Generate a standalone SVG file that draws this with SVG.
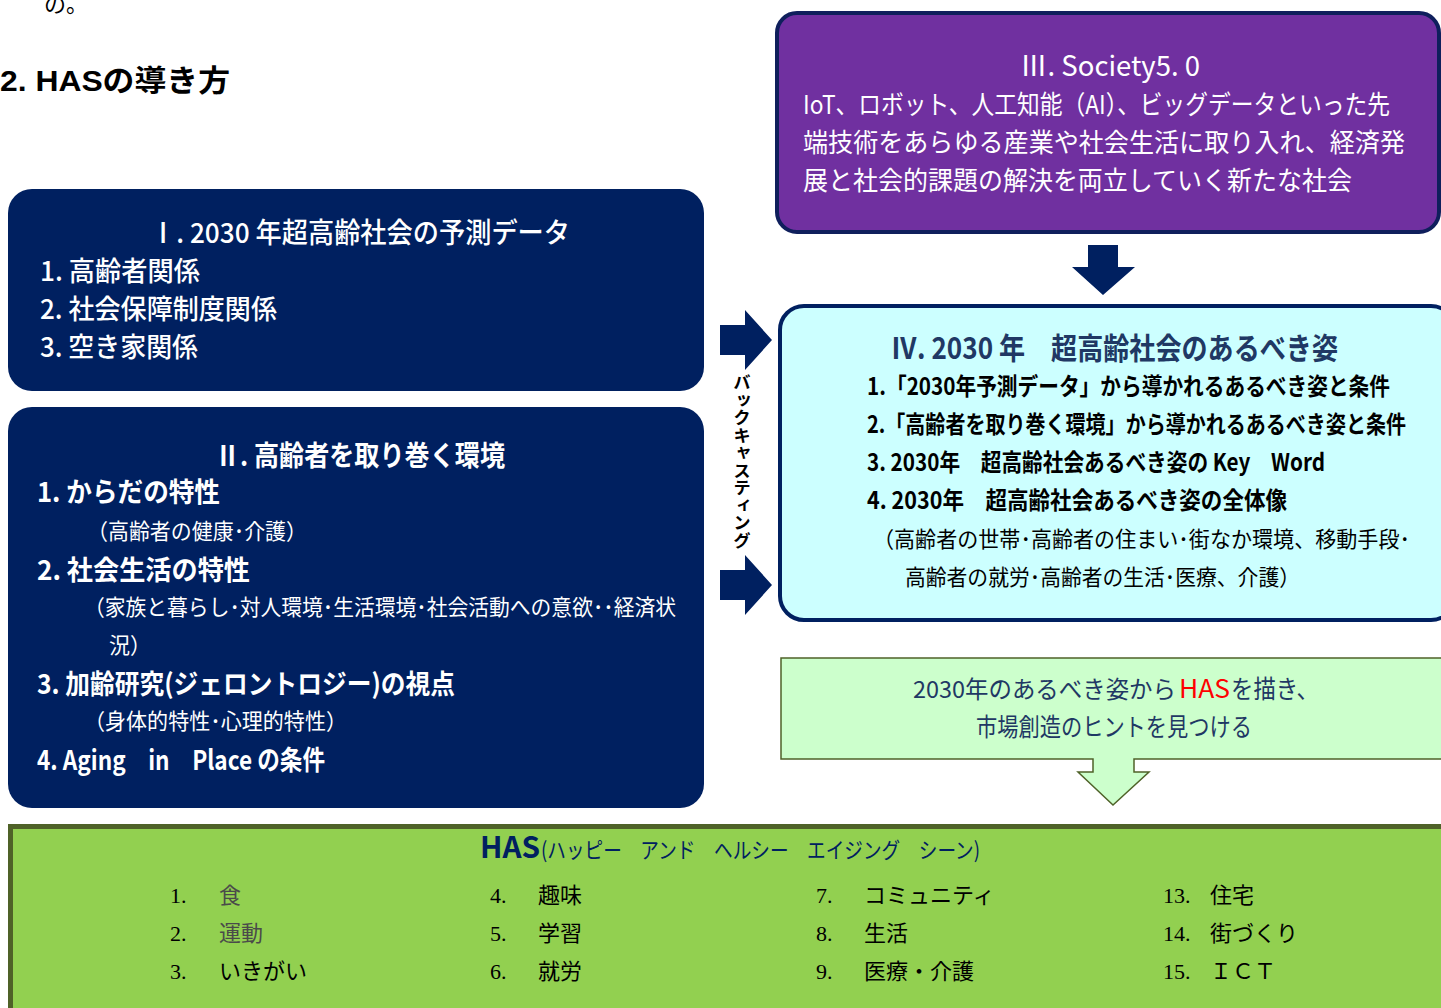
<svg xmlns="http://www.w3.org/2000/svg" width="1441" height="1008" viewBox="0 0 1441 1008">
<style>
text { font-family: "Noto Sans CJK JP", sans-serif; }
.w { fill: #ffffff; }
.b { font-weight: 700; }
.k { fill: #000000; }
.navy { fill: #002060; }
.hint { fill: #1F3864; font-size: 25px; }
.serif { font-family: "Liberation Serif", "Noto Sans CJK JP", serif; font-size: 22px; fill: #000; }
.gray { fill: #4a4a4a; }
.arrow { fill: #002060; }
</style>
<rect width="1441" height="1008" fill="#ffffff"/>

<g id="header">
  <text x="44" y="12" font-size="22" class="k">の。</text>
  <text x="0" y="91" font-size="30" class="k b" textLength="230" lengthAdjust="spacingAndGlyphs"><tspan font-family="Liberation Sans, sans-serif">2. HAS</tspan>の導き方</text>
</g>

<g id="node-society">
  <rect x="777" y="13" width="662" height="219" rx="20" fill="#7030A0" stroke="#0F1F5C" stroke-width="4"/>
  <text x="1020" y="76" font-size="28" class="w" textLength="180" lengthAdjust="spacingAndGlyphs">Ⅲ. Society5. 0</text>
  <text x="803" y="114" font-size="26" class="w" textLength="587" lengthAdjust="spacingAndGlyphs">IoT、ロボット、人工知能（AI）、ビッグデータといった先</text>
  <text x="803" y="152" font-size="26" class="w" textLength="602" lengthAdjust="spacingAndGlyphs">端技術をあらゆる産業や社会生活に取り入れ、経済発</text>
  <text x="803" y="190" font-size="26" class="w" textLength="549" lengthAdjust="spacingAndGlyphs">展と社会的課題の解決を両立していく新たな社会</text>
</g>

<g id="node-forecast">
  <rect x="8" y="189" width="696" height="202" rx="24" fill="#002060"/>
  <text x="150" y="243" font-size="28" class="w" font-weight="500" textLength="420" lengthAdjust="spacingAndGlyphs">Ⅰ. 2030 年超高齢社会の予測データ</text>
  <text x="40" y="281" font-size="27" class="w" font-weight="500" textLength="160" lengthAdjust="spacingAndGlyphs">1. 高齢者関係</text>
  <text x="40" y="319" font-size="27" class="w" font-weight="500" textLength="237" lengthAdjust="spacingAndGlyphs">2. 社会保障制度関係</text>
  <text x="40" y="357" font-size="27" class="w" font-weight="500" textLength="158" lengthAdjust="spacingAndGlyphs">3. 空き家関係</text>
</g>

<g id="node-environment">
  <rect x="8" y="407" width="696" height="401" rx="24" fill="#002060"/>
  <text x="215" y="466" font-size="28" class="w b" textLength="290" lengthAdjust="spacingAndGlyphs">Ⅱ. 高齢者を取り巻く環境</text>
  <text x="37" y="502" font-size="27" class="w b" textLength="183" lengthAdjust="spacingAndGlyphs">1. からだの特性</text>
  <text x="87" y="539" font-size="22" class="w" textLength="220" lengthAdjust="spacingAndGlyphs">（高齢者の健康･介護）</text>
  <text x="37" y="580" font-size="27" class="w b" textLength="213" lengthAdjust="spacingAndGlyphs">2. 社会生活の特性</text>
  <text x="84" y="615" font-size="22" class="w" textLength="592" lengthAdjust="spacingAndGlyphs">（家族と暮らし･対人環境･生活環境･社会活動への意欲･･経済状</text>
  <text x="109" y="653" font-size="22" class="w" textLength="42" lengthAdjust="spacingAndGlyphs">況）</text>
  <text x="37" y="694" font-size="27" class="w b" textLength="418" lengthAdjust="spacingAndGlyphs">3. 加齢研究(ジェロントロジー)の視点</text>
  <text x="84" y="729" font-size="22" class="w" textLength="263" lengthAdjust="spacingAndGlyphs">（身体的特性･心理的特性）</text>
  <text x="37" y="770" font-size="27" class="w b" textLength="288" lengthAdjust="spacingAndGlyphs">4. Aging　in　Place の条件</text>
</g>

<g id="node-ideal">
  <rect x="780" y="306" width="675" height="314" rx="24" fill="#CCFFFF" stroke="#002060" stroke-width="4"/>
  <text x="891" y="359" font-size="30" class="b" fill="#203864" textLength="447" lengthAdjust="spacingAndGlyphs">Ⅳ. 2030 年　超高齢社会のあるべき姿</text>
  <text x="867" y="395" font-size="24" class="k b" textLength="523" lengthAdjust="spacingAndGlyphs">1.「2030年予測データ」から導かれるあるべき姿と条件</text>
  <text x="867" y="433" font-size="24" class="k b" textLength="539" lengthAdjust="spacingAndGlyphs">2.「高齢者を取り巻く環境」から導かれるあるべき姿と条件</text>
  <text x="867" y="471" font-size="24" class="k b" textLength="458" lengthAdjust="spacingAndGlyphs">3. 2030年　超高齢社会あるべき姿の Key　Word</text>
  <text x="867" y="509" font-size="24" class="k b" textLength="420" lengthAdjust="spacingAndGlyphs">4. 2030年　超高齢社会あるべき姿の全体像</text>
  <text x="873" y="547" font-size="22" class="k" textLength="537" lengthAdjust="spacingAndGlyphs">（高齢者の世帯･高齢者の住まい･街なか環境、移動手段･</text>
  <text x="905" y="585" font-size="22" class="k" textLength="395" lengthAdjust="spacingAndGlyphs">高齢者の就労･高齢者の生活･医療、介護）</text>
</g>

<g id="node-hint">
  <path d="M781,658 H1450 V759 H1134 V772 H1149 L1113,805 L1078,772 H1093 V759 H781 Z" fill="#CCFFCC" stroke="#4F6228" stroke-width="1.5"/>
  <text x="913" y="698" class="hint" style="font-size:23.5px" textLength="263" lengthAdjust="spacingAndGlyphs">2030年のあるべき姿から</text>
  <text x="1179" y="698" class="hint" style="fill:#FF0000" textLength="51" lengthAdjust="spacingAndGlyphs">HAS</text>
  <text x="1231" y="698" class="hint" textLength="88" lengthAdjust="spacingAndGlyphs">を描き、</text>
  <text x="976" y="736" class="hint" textLength="276" lengthAdjust="spacingAndGlyphs">市場創造のヒントを見つける</text>
</g>

<g id="node-has">
  <rect x="10.5" y="826.5" width="1440" height="200" fill="#92D050" stroke="#4F6228" stroke-width="5"/>
  <text x="480" y="858" font-size="29" class="navy b" font-family="Liberation Sans, sans-serif" textLength="60" lengthAdjust="spacingAndGlyphs">HAS</text>
  <text x="541" y="858" font-size="22" class="navy" textLength="439" lengthAdjust="spacingAndGlyphs">(ハッピー　アンド　ヘルシー　エイジング　シーン)</text>
  <text x="170" y="903" class="serif">1.</text><text x="219" y="903" class="serif gray">食</text>
  <text x="170" y="941" class="serif">2.</text><text x="219" y="941" class="serif gray">運動</text>
  <text x="170" y="979" class="serif">3.</text><text x="219" y="979" class="serif" fill="#5a4a6a">いきがい</text>
  <text x="490" y="903" class="serif">4.</text><text x="538" y="903" class="serif">趣味</text>
  <text x="490" y="941" class="serif">5.</text><text x="538" y="941" class="serif">学習</text>
  <text x="490" y="979" class="serif">6.</text><text x="538" y="979" class="serif">就労</text>
  <text x="816" y="903" class="serif">7.</text><text x="864" y="903" class="serif">コミュニティ</text>
  <text x="816" y="941" class="serif">8.</text><text x="864" y="941" class="serif">生活</text>
  <text x="816" y="979" class="serif">9.</text><text x="864" y="979" class="serif">医療・介護</text>
  <text x="1163" y="903" class="serif">13.</text><text x="1210" y="903" class="serif">住宅</text>
  <text x="1163" y="941" class="serif">14.</text><text x="1210" y="941" class="serif">街づくり</text>
  <text x="1163" y="979" class="serif">15.</text><text x="1210" y="979" class="serif">ＩＣＴ</text>
</g>

<g id="connectors">
  <path class="arrow" d="M1088,245 H1118 V267 H1135 L1103,295 L1072,267 H1088 Z"/>
  <path class="arrow" d="M720,325 H745 V310 L772,340 L745,370 V355 H720 Z"/>
  <path class="arrow" d="M720,570 H745 V555 L772,585 L745,615 V600 H720 Z"/>
  <text x="742" y="374" font-size="17.5" class="k b" style="writing-mode: vertical-rl;">バックキャスティング</text>
</g>
</svg>
